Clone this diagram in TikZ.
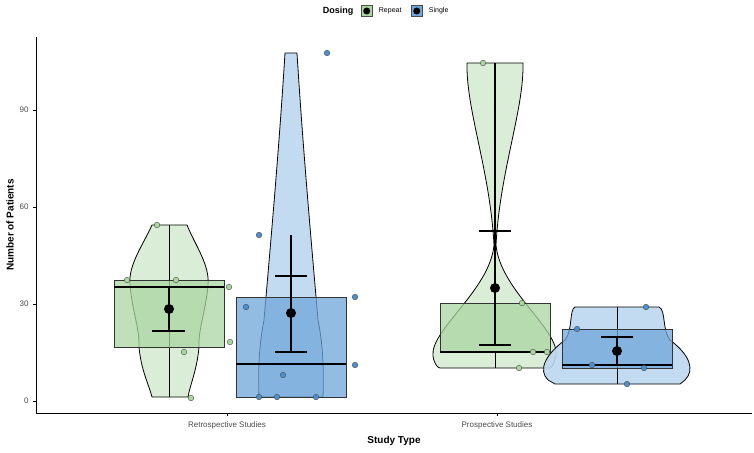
\documentclass[tikz,border=0pt]{standalone}
\usepackage{fontspec}
\setmainfont{Liberation Sans}
\usetikzlibrary{positioning}
\definecolor{grnV}{HTML}{D6EBD2}
\definecolor{grnB}{HTML}{A9D5A1}
\definecolor{grnP}{HTML}{A8D89E}
\definecolor{bluV}{HTML}{BDD7EE}
\definecolor{bluB}{HTML}{6FA6DA}
\definecolor{bluP}{HTML}{4A90D0}
\begin{document}
\begin{tikzpicture}[x=1pt,y=-1pt,every node/.style={font=\small},
  violin/.style={draw=black,line width=0.8pt,fill opacity=0.9},
  boxx/.style={draw=black!80,line width=0.8pt,fill opacity=0.75},
  med/.style={line width=1.8pt},
  errbar/.style={line width=1.4pt},
  pt/.style={draw=black!70,line width=0.4pt}]
\useasboundingbox (0,0) rectangle (754,452);
% Axes
\draw[line width=0.6pt] (36,37) -- (36,413) -- (752,413);
\foreach \v/\y in {0/401,30/304,60/207,90/110}{
  \draw (33,\y) -- (36,\y);
  \node[anchor=east,font=\footnotesize,text=black!70] at (32,\y) {\v};
}
\foreach \x/\t in {227/Retrospective Studies,497/Prospective Studies}{
  \draw (\x,413) -- (\x,416);
  \node[font=\footnotesize,text=black!70] at (\x,425) {\t};
}
\node[font=\bfseries] at (394,441) {Study Type};
\node[font=\bfseries,rotate=90] at (10,225) {Number of Patients};

% Retrospective, repeat
\draw[violin,fill=grnV] (152,225) -- (187,225) .. controls (195,245) and (210,265) .. (208,285)
  .. controls (206,310) and (198,330) .. (199,347) .. controls (197,370) and (190,385) .. (188,397)
  -- (152,397) .. controls (149,385) and (141,370) .. (139,347)
  .. controls (140,330) and (132,310) .. (130,285) .. controls (128,265) and (143,245) .. (152,225) -- cycle;
\draw[line width=0.8pt] (169,225) -- (169,397);
\draw[boxx,fill=grnB] (114,280) rectangle (224,347);
\draw[med] (114,287) -- (224,287);
\draw[errbar] (169,287) -- (169,331) (152,331) -- (185,331);
\fill (169,309) circle (5);
% Retrospective, single
\draw[violin,fill=bluV] (285,53) -- (297,53) .. controls (303,150) and (312,250) .. (318,320)
  .. controls (323,345) and (324,370) .. (323,397) -- (259,397)
  .. controls (258,370) and (259,345) .. (264,320) .. controls (270,250) and (279,150) .. (285,53) -- cycle;
\draw[boxx,fill=bluB] (236,297) rectangle (346,397);
\draw[med] (236,364) -- (346,364);
\draw[errbar] (291,235) -- (291,352) (275,276) -- (307,276) (275,352) -- (307,352);
\fill (291,313) circle (5);

% Prospective, repeat
\draw[violin,fill=grnV] (467,63) -- (523,63) .. controls (524,110) and (500,170) .. (496,245)
  .. controls (500,290) and (560,330) .. (556,356) .. controls (554,364) and (552,368) .. (550,368)
  -- (440,368) .. controls (438,368) and (434,364) .. (433,356)
  .. controls (430,330) and (490,290) .. (494,245) .. controls (490,170) and (466,110) .. (467,63) -- cycle;
\draw[line width=0.8pt] (495,352) -- (495,368);
\draw[boxx,fill=grnB] (440,303) rectangle (550,352);
\draw[med] (440,352) -- (550,352);
\draw[errbar] (495,63) -- (495,345) (479,231) -- (511,231) (479,345) -- (511,345);
\fill (495,288) circle (5);
% Prospective, single
\draw[violin,fill=bluV] (575,307) -- (659,307) .. controls (666,310) and (662,330) .. (670,340)
  .. controls (690,355) and (695,370) .. (685,380) -- (680,384) -- (555,384) -- (548,380)
  .. controls (538,370) and (545,355) .. (565,340) .. controls (573,330) and (569,310) .. (575,307) -- cycle;
\draw[line width=0.8pt] (617,307) -- (617,384);
\draw[boxx,fill=bluB] (562,329) rectangle (672,368);
\draw[med] (562,365) -- (672,365);
\draw[errbar] (617,337) -- (617,365) (601,337) -- (633,337);
\fill (617,351) circle (5);

% Jittered points
\foreach \x/\y in {157/225,127/280,176/280,229/287,230/342,184/352,191/398}
  \filldraw[pt,fill=grnP] (\x,\y) circle (2.8);
\foreach \x/\y in {259/235,355/297,355/365,246/307,283/375,259/397,277/397,316/397,327/53}
  \filldraw[pt,fill=bluP] (\x,\y) circle (2.8);
\foreach \x/\y in {483/63,522/303,533/352,547/352,519/368}
  \filldraw[pt,fill=grnP] (\x,\y) circle (2.8);
\foreach \x/\y in {646/307,577/329,592/365,644/368,627/384}
  \filldraw[pt,fill=bluP] (\x,\y) circle (2.8);

% Legend
\node[font=\small\bfseries,anchor=east] (dosing) at (357,11) {Dosing};
\node[draw=black!70,fill=grnB,minimum size=11pt,inner sep=0pt,right=4pt of dosing] (keyrep) {};
\fill (keyrep) circle (3.5);
\node[font=\scriptsize,right=3pt of keyrep] (labrep) {Repeat};
\node[draw=black!70,fill=bluB,minimum size=11pt,inner sep=0pt,right=6pt of labrep] (keysin) {};
\fill (keysin) circle (3.5);
\node[font=\scriptsize,right=3pt of keysin] {Single};
\end{tikzpicture}
\end{document}
